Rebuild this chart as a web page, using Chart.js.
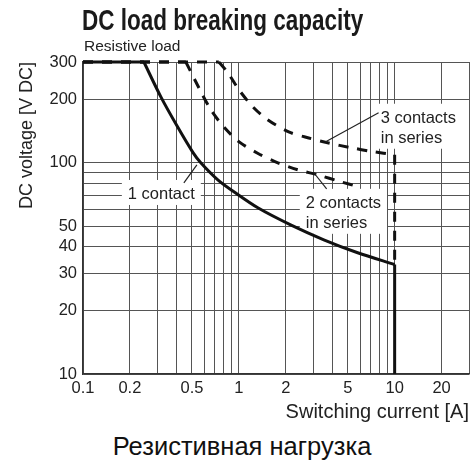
<!DOCTYPE html>
<html>
<head>
<meta charset="utf-8">
<script src="https://cdn.jsdelivr.net/npm/chart.js@4.4.1/dist/chart.umd.min.js"></script>
<style>
  html, body { margin: 0; padding: 0; background: #fff; }
  #wrap { position: relative; width: 476px; height: 468px; overflow: hidden; }
  #box { position: absolute; left: 0; top: 0; width: 476px; height: 430px; }
  .title { position: absolute; left: 82px; top: 5px; font: bold 30px "Liberation Sans", Arial, sans-serif;
           line-height: 30px; transform: scaleX(0.75); transform-origin: 0 0; white-space: nowrap; color: #1a1a1a; }
  .sub { position: absolute; left: 84px; top: 38px; font: 15.5px "Liberation Sans", Arial, sans-serif;
         line-height: 16px; white-space: nowrap; color: #222; }
  .caption { position: absolute; left: 4px; top: 434px; width: 476px; text-align: center;
             font: 25.5px "Liberation Sans", Arial, sans-serif; line-height: 25px; color: #111; }
</style>
</head>
<body>
<div id="wrap">
  <div id="box"><canvas id="breaking"></canvas></div>
  <div class="title">DC load breaking capacity</div>
  <div class="sub">Resistive load</div>
  <div class="caption">Резистивная нагрузка</div>
</div>
<script>
const xGridValues = [0.1, 0.2, 0.3, 0.4, 0.5, 0.6, 0.7, 0.8, 0.9, 1, 2, 3, 4, 5, 6, 7, 8, 9, 10, 20, 30];
const xTickLabels = [0.1, 0.2, 0.5, 1, 2, 5, 10, 20];
const yGridValues = [10, 20, 30, 40, 50, 60, 70, 80, 90, 100, 200, 300];
const yTickLabels = [10, 20, 30, 40, 50, 100, 200, 300];

// 1 contact (solid line)
const oneContactI = [0.1, 0.246, 0.316, 0.4, 0.507, 0.57, 0.733, 0.929, 1.324, 2.15, 3.51, 5.79, 10, 10];
const oneContactV = [300, 300, 205, 150, 112, 100, 83, 72.9, 61.2, 50.8, 43.2, 37.5, 33, 10];
// 2 contacts in series (dashed)
const twoContactsI = [0.1, 0.457, 0.571, 0.662, 0.8, 1.0, 1.32, 1.78, 2.39, 3.21, 4.5, 5.88];
const twoContactsV = [300, 300, 217, 178, 148, 126, 111, 100, 92.6, 87.7, 81.3, 77];
// 3 contacts in series (dashed)
const threeContactsI = [0.1, 0.744, 0.85, 1.0, 1.23, 1.53, 2.09, 2.81, 3.77, 5.2, 7.2, 10, 10];
const threeContactsV = [300, 300, 267, 222, 184, 160, 140, 131, 124, 118, 113, 109, 33];

// labels: text anchor (left / first baseline) and leader line, in data units
const notes = [
  { lines: ['1 contact'], at: [0.194, 67.4], leader: [[0.444, 80.4], [0.538, 97.8]] },
  { lines: ['2 contacts', 'in series'], at: [2.69, 61.2], leader: [[3.66, 75.3], [3.03, 89.7]] },
  { lines: ['3 contacts', 'in series'], at: [8.14, 154.7], leader: [[7.89, 172.6], [3.61, 125.8]] }
];

const textColor = '#222';
const noteFont = '16.5px "Liberation Sans", Arial, sans-serif';

function pts(I, V, from, to) {
  const out = [];
  for (let i = from; i <= to; i++) out.push({ x: I[i], y: V[i] });
  return out;
}

// flat part / curve / vertical drop as separate pieces so the corners stay sharp
function curveSets(I, V, dash, hasDrop) {
  const last = I.length - 1;
  const end = hasDrop ? last - 1 : last;
  const base = { borderColor: '#111', borderWidth: 3, borderDash: dash, pointRadius: 0, clip: false, fill: false };
  const sets = [
    { ...base, data: pts(I, V, 0, 1), tension: 0 },
    { ...base, data: pts(I, V, 1, end), tension: 0.3 }
  ];
  if (hasDrop) sets.push({ ...base, data: pts(I, V, end, last), tension: 0 });
  return sets;
}

function noteBoxes(chart, ctx) {
  const { x, y } = chart.scales;
  return notes.map(n => {
    const tx = x.getPixelForValue(n.at[0]);
    const ty = y.getPixelForValue(n.at[1]);
    const w = Math.max(...n.lines.map(l => ctx.measureText(l).width));
    return { n, tx, ty, left: tx - 6, top: ty - 19, w: w + 12, h: (n.lines.length - 1) * 20 + 25 };
  });
}

const notePlugin = {
  id: 'notes',
  beforeDatasetsDraw(chart) {
    const ctx = chart.ctx;
    ctx.save();
    ctx.font = noteFont;
    ctx.fillStyle = '#fff';
    noteBoxes(chart, ctx).forEach(b => ctx.fillRect(b.left, b.top, b.w, b.h));
    ctx.restore();
  },
  afterDatasetsDraw(chart) {
    const ctx = chart.ctx;
    const { x, y } = chart.scales;
    ctx.save();
    ctx.font = noteFont;
    ctx.fillStyle = textColor;
    ctx.textBaseline = 'alphabetic';
    ctx.textAlign = 'left';
    noteBoxes(chart, ctx).forEach(b => {
      b.n.lines.forEach((l, i) => ctx.fillText(l, b.tx, b.ty + i * 20));
      ctx.beginPath();
      ctx.moveTo(x.getPixelForValue(b.n.leader[0][0]), y.getPixelForValue(b.n.leader[0][1]));
      ctx.lineTo(x.getPixelForValue(b.n.leader[1][0]), y.getPixelForValue(b.n.leader[1][1]));
      ctx.strokeStyle = '#222';
      ctx.lineWidth = 1.2;
      ctx.stroke();
    });
    ctx.restore();
  }
};

const ctx = document.getElementById('breaking').getContext('2d');
const chart = new Chart(ctx, {
  type: 'line',
  data: {
    datasets: [
      ...curveSets(oneContactI, oneContactV, [], true),
      ...curveSets(twoContactsI, twoContactsV, [10, 9], false),
      ...curveSets(threeContactsI, threeContactsV, [10, 9], true)
    ]
  },
  options: {
    responsive: true,
    maintainAspectRatio: false,
    animation: false,
    layout: { padding: { top: 62, right: 7, bottom: 5, left: 0 } },
    plugins: { legend: { display: false }, tooltip: { enabled: false } },
    scales: {
      x: {
        type: 'logarithmic',
        min: 0.1,
        max: 30,
        afterBuildTicks: s => { s.ticks = xGridValues.map(v => ({ value: v })); },
        afterFit: s => { s.height = 51; },
        grid: { color: '#555', lineWidth: 1, drawTicks: false },
        border: { color: '#333', width: 1.5 },
        ticks: {
          autoSkip: false, maxRotation: 0, minRotation: 0, padding: 5, color: textColor,
          font: { family: '"Liberation Sans", Arial, sans-serif', size: 16.5 },
          callback: v => xTickLabels.includes(v) ? String(v) : ''
        },
        title: {
          display: true, text: 'Switching current [A]', align: 'end', color: textColor,
          font: { family: '"Liberation Sans", Arial, sans-serif', size: 20 },
          padding: { top: 0, bottom: 1 }
        }
      },
      y: {
        type: 'logarithmic',
        min: 10,
        max: 300,
        afterBuildTicks: s => { s.ticks = yGridValues.map(v => ({ value: v })); },
        afterFit: s => { s.width = 83; },
        grid: { color: '#555', lineWidth: 1, drawTicks: false },
        border: { color: '#333', width: 1.5 },
        ticks: {
          autoSkip: false, padding: 6, color: textColor,
          font: { family: '"Liberation Sans", Arial, sans-serif', size: 16.5 },
          callback: v => yTickLabels.includes(v) ? String(v) : ''
        },
        title: {
          display: true, text: 'DC voltage [V DC]', align: 'end', color: textColor,
          font: { family: '"Liberation Sans", Arial, sans-serif', size: 18 },
          padding: { top: 16, bottom: 0 }
        }
      }
    }
  },
  plugins: [notePlugin]
});
</script>
</body>
</html>
